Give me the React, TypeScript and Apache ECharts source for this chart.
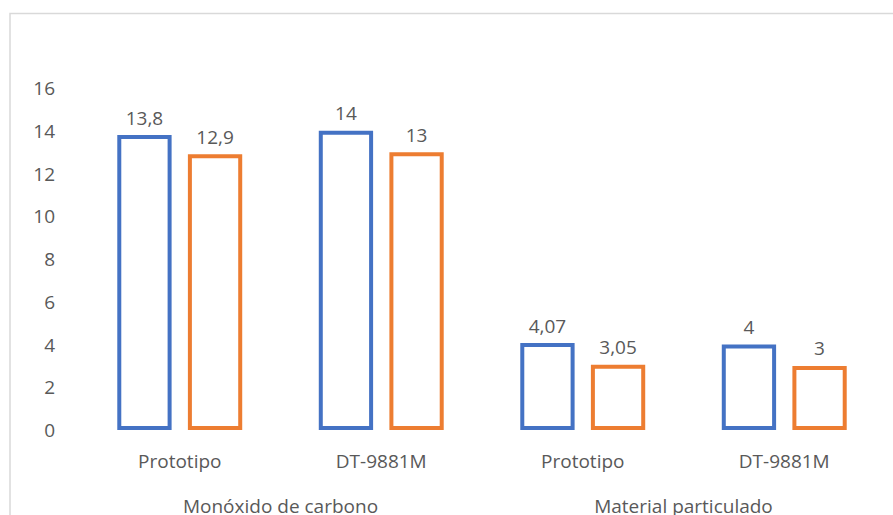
import React, { useEffect, useRef } from "react";
import * as echarts from "echarts";

const subCategories = ["Prototipo", "DT-9881M", "Prototipo", "DT-9881M"];
const groupCategories = ["Monóxido de carbono", "Material particulado"];
const seriesA = [13.8, 14, 4.07, 4];
const seriesB = [12.9, 13, 3.05, 3];
const yTicks = { min: 0, max: 16, interval: 2 };

const FONT = "'Open Sans', 'Noto Sans', sans-serif";
const GRAY = "#595959";
const FS = 19;

export default function App() {
  const ref = useRef<HTMLDivElement>(null);
  useEffect(() => {
    if (!ref.current) return;
    const chart = echarts.init(ref.current, null, { renderer: "svg" });
    const fmt = (p: any) => String(p.value).replace(".", ",");
    const mk = (name: string, data: number[], color: string) => ({
      name,
      type: "bar",
      data,
      barGap: "30%",
      barCategoryGap: "38%",
      itemStyle: { color: "#ffffff", borderColor: color, borderWidth: 4 },
      label: {
        show: true,
        position: "top",
        distance: 8,
        formatter: fmt,
        color: GRAY,
        fontSize: FS,
        fontFamily: FONT,
      },
    });
    chart.setOption({
      animation: false,
      backgroundColor: "#ffffff",
      grid: { left: 79, right: 8, top: 88, bottom: 83, containLabel: false },
      graphic: [
        {
          type: "rect",
          shape: { x: 10, y: 13.5, width: 900, height: 520 },
          style: { fill: "none", stroke: "#d9d9d9", lineWidth: 1.5 },
          silent: true,
        },
      ],
      xAxis: [
        {
          type: "category",
          data: subCategories,
          axisLine: { show: false },
          axisTick: { show: false },
          axisLabel: { color: GRAY, fontSize: FS, fontFamily: FONT, margin: 21 },
        },
        {
          type: "category",
          data: groupCategories,
          position: "bottom",
          offset: 45,
          axisLine: { show: false },
          axisTick: { show: false },
          splitLine: { show: false },
          axisLabel: { color: GRAY, fontSize: FS, fontFamily: FONT, margin: 21 },
        },
      ],
      yAxis: {
        type: "value",
        min: yTicks.min,
        max: yTicks.max,
        interval: yTicks.interval,
        axisLine: { show: false },
        axisTick: { show: false },
        splitLine: { show: false },
        axisLabel: { color: GRAY, fontSize: FS, fontFamily: FONT, margin: 24 },
      },
      series: [mk("A", seriesA, "#4472C4"), mk("B", seriesB, "#ED7D31")],
    });
    return () => chart.dispose();
  }, []);
  return (
    <div
      ref={ref}
      style={{ position: "fixed", left: 0, top: 0, width: 893, height: 515 }}
    />
  );
}
